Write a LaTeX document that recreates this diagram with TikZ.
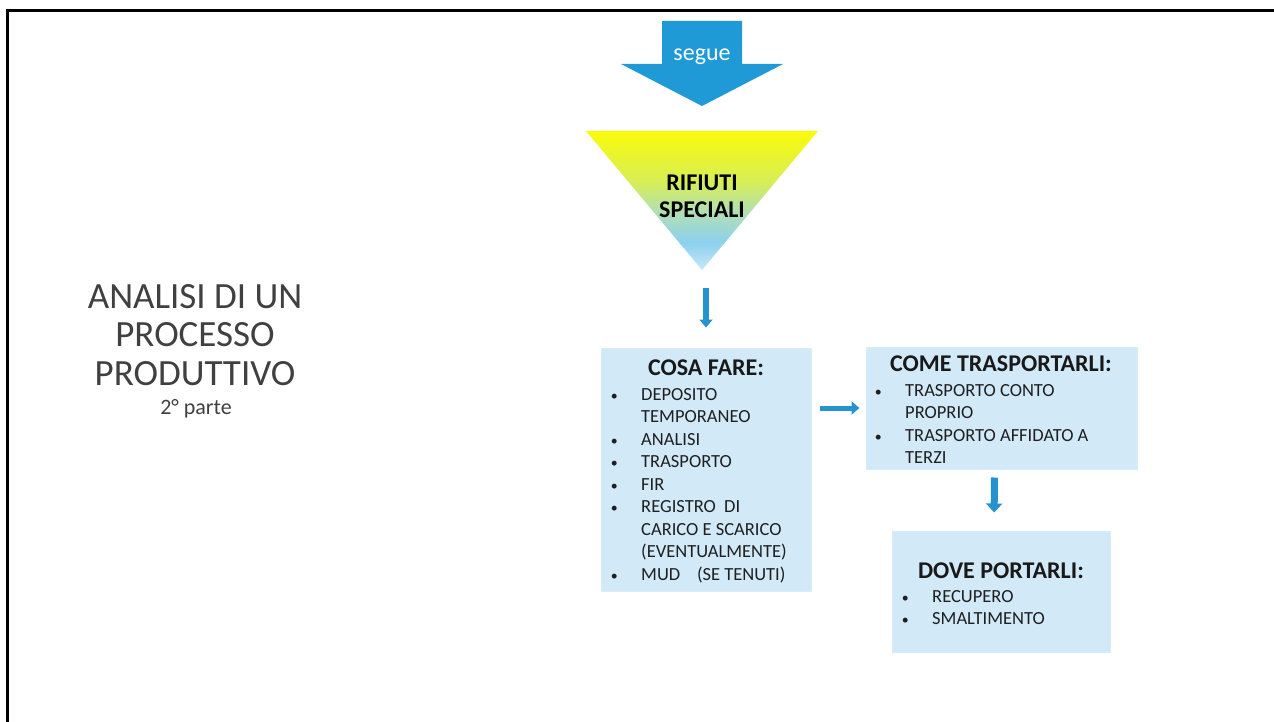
\documentclass[tikz,border=0pt]{standalone}
\usepackage{fontspec}
\setmainfont{Carlito}
\usetikzlibrary{arrows.meta}
\definecolor{segueblue}{RGB}{31,154,214}
\definecolor{arrowblue}{RGB}{38,146,208}
\definecolor{boxblue}{RGB}{210,234,248}
\definecolor{titlegray}{RGB}{64,64,64}
\definecolor{rifyellow}{RGB}{250,250,10}
\definecolor{rifgreen}{RGB}{215,238,85}
\definecolor{rifmint}{RGB}{175,222,185}
\definecolor{rifblue}{RGB}{140,208,238}
\definecolor{riftip}{RGB}{200,232,248}
\pgfdeclareverticalshading{rifiuti}{100bp}{color(0bp)=(riftip); color(25bp)=(riftip); color(35bp)=(rifblue); color(45bp)=(rifmint); color(57bp)=(rifgreen); color(75bp)=(rifyellow); color(100bp)=(rifyellow)}
\newcommand{\pto}{\makebox[30pt][l]{\makebox[6pt]{\scalebox{.75}{\textbullet}}}}
\newcommand{\cnt}{\hspace*{30pt}}
\begin{document}
\begin{tikzpicture}[x=1pt, y=-1pt,
    box/.style={rectangle, fill=boxblue, draw=boxblue!85!white, line width=1pt, inner sep=0pt},
    head/.style={font=\fontsize{24}{28}\selectfont\bfseries, text=black!90},
    list/.style={font=\fontsize{18.5}{22.5}\selectfont, text=black!88, align=left, anchor=north west, inner sep=0pt},
    conn/.style={line width=6pt, draw=arrowblue, -{Triangle[width=13pt,length=8pt]}}
  ]
  \useasboundingbox (0,0) rectangle (1274,722);
  \draw[line width=3pt] (7,722) -- (7,11) -- (1274,11);

  % left title
  \node[font=\fontsize{37}{38.5}\selectfont, text=titlegray, align=center] (titolo) at (195,335) {ANALISI DI UN\\PROCESSO\\PRODUTTIVO};
  \node[font=\fontsize{22}{24}\selectfont, text=titlegray] (parte) at (196,409) {2° parte};

  % segue arrow
  \fill[segueblue] (662,21) -- (742,21) -- (742,64) -- (783,64) -- (702,106) -- (621,64) -- (662,64) -- cycle;
  \node[font=\fontsize{24}{26}\selectfont, text=white] (segue) at (702,57) {segue};

  % triangle
  \shade[shading=rifiuti] (586,131) -- (818,131) -- (702,270) -- cycle;
  \coordinate (tip) at (702,270);
  \node[font=\fontsize{24}{27}\selectfont\bfseries, align=center] (rifiuti) at (702,196) {RIFIUTI\\SPECIALI};

  % boxes
  \node[box, minimum width=210, minimum height=243] (cosa) at (706,469.5) {};
  \node[head] (cosahead) at (706,368) {COSA FARE:};
  \node[list] (cosalist) at (611,388) {\pto DEPOSITO\\ \cnt TEMPORANEO\\ \pto ANALISI\\ \pto TRASPORTO\\ \pto FIR\\ \pto REGISTRO\ \ DI\\ \cnt CARICO E SCARICO\\ \cnt (EVENTUALMENTE)\\ \pto MUD\ \ \ \ (SE TENUTI)};

  \node[box, minimum width=271, minimum height=122] (trasp) at (1001.5,408) {};
  \node[head] (trasphead) at (1001,364) {COME TRASPORTARLI:};
  \node[list] (trasplist) at (875,384) {\pto TRASPORTO CONTO\\ \cnt PROPRIO\\ \pto TRASPORTO AFFIDATO A\\ \cnt TERZI};

  \node[box, minimum width=218, minimum height=121] (dove) at (1001,591.5) {};
  \node[head] (dovehead) at (1001,571) {DOVE PORTARLI:};
  \node[list] (dovelist) at (902,590) {\pto RECUPERO\\ \pto SMALTIMENTO};

  % connectors
  \draw[conn, shorten <=18pt, shorten >=20pt] (cosa.north |- tip) -- (cosa.north);
  \draw[conn, line width=5pt, shorten <=8pt, shorten >=6pt] (cosa.east |- trasp.west) -- (trasp.west);
  \draw[conn, line width=7pt, -{Triangle[width=16pt,length=9pt]}, shorten <=8pt, shorten >=18pt] ([xshift=-7pt]trasp.south) -- ([xshift=-7pt]dove.north);
\end{tikzpicture}
\end{document}
